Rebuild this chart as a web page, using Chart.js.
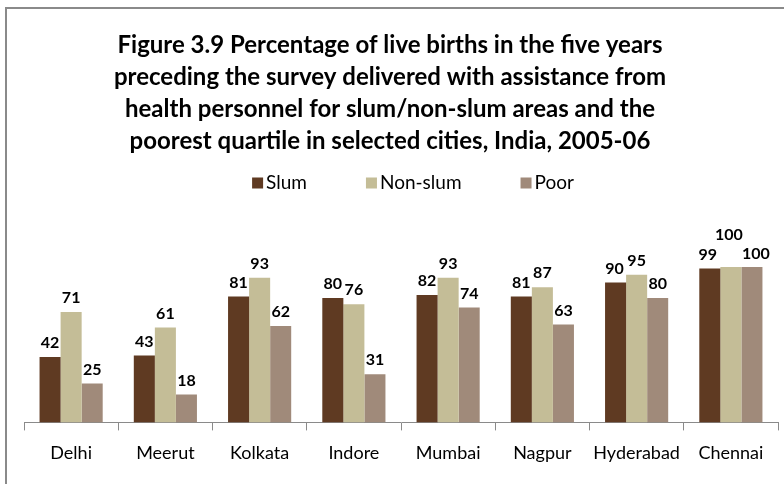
<!DOCTYPE html>
<html>
<head>
<meta charset="utf-8">
<script src="https://cdn.jsdelivr.net/npm/chart.js@4.4.1/dist/chart.umd.min.js"></script>
<style>
  html, body { margin: 0; padding: 0; background: #fff; }
  #wrap { width: 784px; height: 484px; position: relative; }
</style>
</head>
<body>
<div id="wrap"><canvas id="c" width="784" height="484"></canvas></div>
<script>
const categories = ['Delhi', 'Meerut', 'Kolkata', 'Indore', 'Mumbai', 'Nagpur', 'Hyderabad', 'Chennai'];
const slum    = [42, 43, 81, 80, 82, 81, 90, 99];
const nonSlum = [71, 61, 93, 76, 93, 87, 95, 100];
const poor    = [25, 18, 62, 31, 74, 63, 80, 100];
const seriesNames = ['Slum', 'Non-slum', 'Poor'];
const titleLines = [
  'Figure 3.9 Percentage of live births in the five years',
  'preceding the survey delivered with assistance from',
  'health personnel for slum/non-slum areas and the',
  'poorest quartile in selected cities, India, 2005-06'
];

const FONT = 'Lato, "Open Sans", sans-serif';

const framePlugin = {
  id: 'frame',
  beforeDraw(chart) {
    const ctx = chart.ctx;
    ctx.save();
    ctx.fillStyle = '#fff';
    ctx.fillRect(0, 0, chart.width, chart.height);
    ctx.strokeStyle = '#8a8a8a';
    ctx.lineWidth = 2;
    ctx.strokeRect(6, 8, chart.width + 20, chart.height + 20);
    ctx.restore();
  }
};

const titleShift = {
  id: 'titleShift',
  afterLayout(chart) {
    if (chart.titleBlock) chart.titleBlock.left -= 22;
  }
};

const customLegend = {
  id: 'customLegend',
  afterDraw(chart, args, opts) {
    const ctx = chart.ctx;
    ctx.save();
    ctx.font = '19px ' + FONT;
    ctx.textBaseline = 'middle';
    ctx.textAlign = 'left';
    const box = 11, gap = 3, spacing = opts.spacing;
    const items = chart.data.datasets.map(ds => ({ text: ds.label, color: ds.backgroundColor, w: box + gap + ctx.measureText(ds.label).width }));
    const total = items.reduce((s, it) => s + it.w, 0) + spacing * (items.length - 1);
    let x = opts.centerX - total / 2;
    const y = opts.y;
    items.forEach(it => {
      ctx.fillStyle = it.color;
      ctx.fillRect(x, y - box / 2, box, box);
      ctx.fillStyle = '#000';
      ctx.fillText(it.text, x + box + gap, y);
      x += it.w + spacing;
    });
    ctx.restore();
  }
};

const valueLabels = {
  id: 'valueLabels',
  afterDatasetsDraw(chart, args, opts) {
    const ctx = chart.ctx;
    ctx.save();
    ctx.font = 'bold 16px ' + FONT;
    ctx.fillStyle = '#000';
    ctx.textAlign = 'center';
    ctx.textBaseline = 'middle';
    chart.data.datasets.forEach((ds, di) => {
      const meta = chart.getDatasetMeta(di);
      meta.data.forEach((el, i) => {
        const n = (opts.nudge && opts.nudge[di + '-' + i]) || [0, 0];
        ctx.fillText(String(ds.data[i]), el.x + n[0], el.y - 14 + n[1]);
      });
    });
    ctx.restore();
  }
};

new Chart(document.getElementById('c'), {
  type: 'bar',
  data: {
    labels: categories,
    datasets: [
      { label: seriesNames[0], data: slum, backgroundColor: '#5f3a22' },
      { label: seriesNames[1], data: nonSlum, backgroundColor: '#c4bd97' },
      { label: seriesNames[2], data: poor, backgroundColor: '#a08a7a' }
    ]
  },
  options: {
    responsive: false,
    animation: false,
    layout: { padding: { left: 24, right: 6, top: 29, bottom: 8 } },
    datasets: { bar: { categoryPercentage: 0.67, barPercentage: 1.0 } },
    plugins: {
      title: {
        display: true,
        text: titleLines,
        color: '#000',
        font: { family: FONT, size: 24, weight: 'bold', lineHeight: 1.333 },
        padding: { top: 0, bottom: 110 }
      },
      legend: { display: false },
      tooltip: { enabled: false },
      customLegend: { centerX: 413, y: 183, spacing: 59 },
      valueLabels: {
        nudge: { '0-7': [-2, 0], '1-7': [-2, -18], '2-7': [4, 1], '0-6': [-1, 0] }
      }
    },
    scales: {
      x: {
        grid: { display: true, drawOnChartArea: false, drawTicks: true, tickLength: 8, color: '#8a8a8a', offset: true },
        border: { display: true, color: '#8a8a8a', width: 1 },
        ticks: { color: '#000', font: { family: FONT, size: 18 }, padding: 12 }
      },
      y: {
        display: false,
        min: 0,
        max: 100
      }
    }
  },
  plugins: [framePlugin, titleShift, customLegend, valueLabels]
});
</script>
</body>
</html>
